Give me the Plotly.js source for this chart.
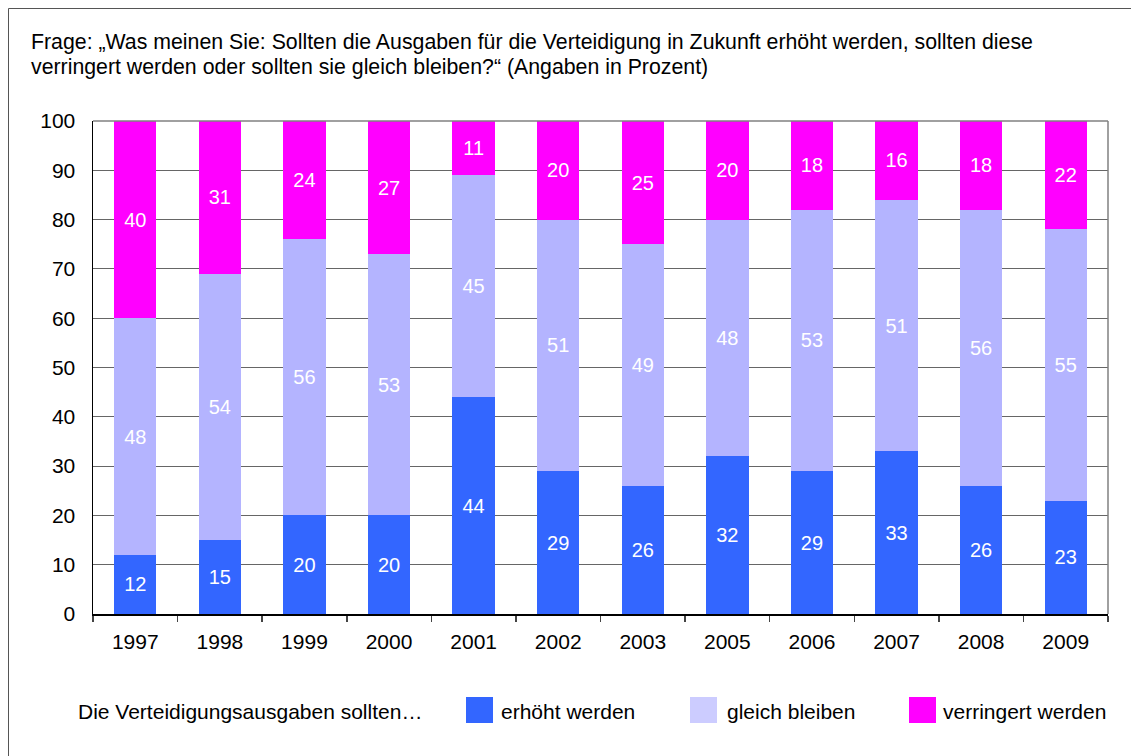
<!DOCTYPE html>
<html>
<head>
<meta charset="utf-8">
<script src="https://cdn.plot.ly/plotly-3.0.1.min.js"></script>
<style>
html,body{margin:0;padding:0;background:#fff;}
#chart{width:1131px;height:756px;}
</style>
</head>
<body>
<div id="chart"></div>
<script>
// Data
var years = ["1997","1998","1999","2000","2001","2002","2003","2005","2006","2007","2008","2009"];
var erhoeht = [12,15,20,20,44,29,26,32,29,33,26,23];
var gleich = [48,54,56,53,45,51,49,48,53,51,56,55];
var verringert = [40,31,24,27,11,20,25,20,18,16,18,22];
var seriesNames = ["erhöht werden","gleich bleiben","verringert werden"];
var yTicks = [0,10,20,30,40,50,60,70,80,90,100];
var titleLines = ["Frage: „Was meinen Sie: Sollten die Ausgaben für die Verteidigung in Zukunft erhöht werden, sollten diese",
                  "verringert werden oder sollten sie gleich bleiben?“ (Angaben in Prozent)"];
var legendIntro = "Die Verteidigungsausgaben sollten…";

// Layout geometry (pixels)
var W = 1131, H = 756;
var mL = 93, mR = 23, mT = 121, mB = 142;
var pw = W - mL - mR, ph = H - mT - mB;
function px(X){ return (X - mL) / pw; }
function py(Y){ return (H - mB - Y) / ph; }

var FONT = "Liberation Sans, Arial, sans-serif";
var colors = ["#3366FF","#B4B4FF","#FF00FF"];
var swatchColors = ["#3366FF","#CCCCFF","#FF00FF"];
var vals = [erhoeht, gleich, verringert];

var traces = vals.map(function(v, i){
  return {
    type: "bar",
    x: years,
    y: v,
    name: seriesNames[i],
    marker: {color: colors[i], line: {width: 0}},
    text: v.map(String),
    textposition: "inside",
    insidetextanchor: "middle",
    textangle: 0,
    constraintext: "none",
    textfont: {family: FONT, size: 20, color: "#ffffff"},
    hoverinfo: "x+y+name",
    showlegend: false
  };
});

var shapes = [
  // outer frame
  {type:"rect", xref:"paper", yref:"paper", x0:px(8.5), x1:px(1160), y0:py(790), y1:py(8.5),
   line:{color:"#555555", width:1}, fillcolor:"rgba(0,0,0,0)", layer:"below"},
  // top border
  {type:"line", xref:"paper", yref:"paper", x0:0, x1:1, y0:1, y1:1, line:{color:"#808080", width:1.5}},
  // right border
  {type:"line", xref:"paper", yref:"paper", x0:1, x1:1, y0:0, y1:1, line:{color:"#808080", width:1.5}}
];

var annotations = [
  {xref:"paper", yref:"paper", x:px(29), y:py(42), xanchor:"left", yanchor:"middle", showarrow:false,
   text:titleLines[0], font:{family:FONT, size:21.3, color:"#000"}},
  {xref:"paper", yref:"paper", x:px(29), y:py(67), xanchor:"left", yanchor:"middle", showarrow:false,
   text:titleLines[1], font:{family:FONT, size:21.3, color:"#000"}},
  {xref:"paper", yref:"paper", x:px(76), y:py(711), xanchor:"left", yanchor:"middle", showarrow:false,
   text:legendIntro, font:{family:FONT, size:21, color:"#000"}}
];

var legX = [466, 690, 909];
var legTextX = [499, 725, 941];
for (var i = 0; i < 3; i++) {
  shapes.push({type:"rect", xref:"paper", yref:"paper", x0:px(legX[i]), x1:px(legX[i]+27), y0:py(723), y1:py(697),
    line:{width:0}, fillcolor:swatchColors[i]});
  annotations.push({xref:"paper", yref:"paper", x:px(legTextX[i]), y:py(711), xanchor:"left", yanchor:"middle",
    showarrow:false, text:seriesNames[i], font:{family:FONT, size:21, color:"#000"}});
}

var layout = {
  width: W, height: H,
  margin: {l: mL, r: mR, t: mT, b: mB, pad: 0},
  paper_bgcolor: "#ffffff",
  plot_bgcolor: "#ffffff",
  barmode: "stack",
  bargap: 0.5,
  showlegend: false,
  font: {family: FONT, size: 20, color: "#000"},
  xaxis: {
    type: "category",
    showline: true, linecolor: "#000000", linewidth: 1.5,
    ticks: "outside", tickson: "boundaries", ticklen: 6, tickcolor: "#444", tickwidth: 1.5,
    showgrid: false, zeroline: false,
    ticklabelstandoff: 8,
    tickfont: {family: FONT, size: 21, color: "#000"}
  },
  yaxis: {
    range: [0, 100], tickvals: yTicks, ticktext: yTicks.map(String),
    showline: true, linecolor: "#000000", linewidth: 1.5,
    ticks: "", showgrid: true, gridcolor: "#666666", gridwidth: 1,
    zeroline: false,
    ticklabelstandoff: 12,
    tickfont: {family: FONT, size: 21, color: "#000"},
    fixedrange: true
  },
  shapes: shapes,
  annotations: annotations
};

Plotly.newPlot("chart", traces, layout, {displayModeBar: false, staticPlot: true});
</script>
</body>
</html>
